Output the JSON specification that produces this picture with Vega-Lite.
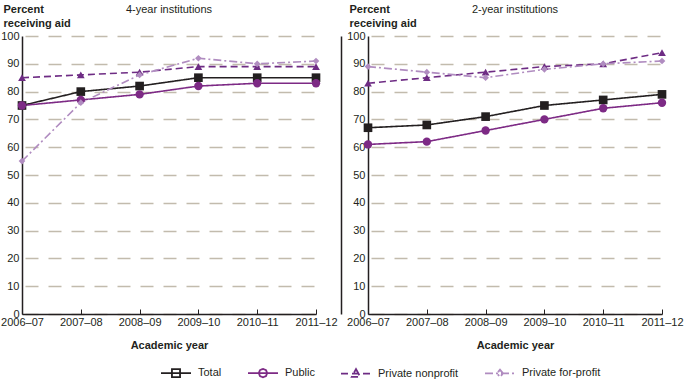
{
  "$schema": "https://vega.github.io/schema/vega-lite/v6.json",
  "padding": {"left": 0, "top": 3, "right": 0, "bottom": 0},
  "background": "white",
  "config": {
    "font": "Liberation Sans",
    "view": {"stroke": null},
    "axis": {"labelFontSize": 11, "labelColor": "#231f20", "titleFontSize": 11, "titleColor": "#231f20", "titleFontWeight": "bold", "domainColor": "#231f20", "domainWidth": 1.5, "tickColor": "#231f20"},
    "axisX": {"labelAngle": 0, "tickSize": -5, "labelPadding": 7, "titlePadding": 12, "grid": false},
    "axisY": {"ticks": false, "labelPadding": 3, "gridColor": "#c2bbad", "gridDash": [13, 10], "gridDashOffset": 20, "gridWidth": 1.5, "titleAngle": 0, "titleAlign": "left", "titleBaseline": "top", "titleX": -19, "titleY": -33, "titleLineHeight": 14},
    "title": {"fontSize": 11, "fontWeight": "normal", "color": "#231f20"}
  },
  "bounds": "flush",
  "spacing": 52,
  "resolve": {"scale": {"color": "independent", "strokeDash": "independent", "fill": "independent", "shape": "independent"}},
  "data": {"values": [
    {"level": "4-year", "year": "2006–07", "series": "Total", "value": 75},
    {"level": "4-year", "year": "2007–08", "series": "Total", "value": 80},
    {"level": "4-year", "year": "2008–09", "series": "Total", "value": 82},
    {"level": "4-year", "year": "2009–10", "series": "Total", "value": 85},
    {"level": "4-year", "year": "2010–11", "series": "Total", "value": 85},
    {"level": "4-year", "year": "2011–12", "series": "Total", "value": 85},
    {"level": "4-year", "year": "2006–07", "series": "Public", "value": 75},
    {"level": "4-year", "year": "2007–08", "series": "Public", "value": 77},
    {"level": "4-year", "year": "2008–09", "series": "Public", "value": 79},
    {"level": "4-year", "year": "2009–10", "series": "Public", "value": 82},
    {"level": "4-year", "year": "2010–11", "series": "Public", "value": 83},
    {"level": "4-year", "year": "2011–12", "series": "Public", "value": 83},
    {"level": "4-year", "year": "2006–07", "series": "Private nonprofit", "value": 85},
    {"level": "4-year", "year": "2007–08", "series": "Private nonprofit", "value": 86},
    {"level": "4-year", "year": "2008–09", "series": "Private nonprofit", "value": 87},
    {"level": "4-year", "year": "2009–10", "series": "Private nonprofit", "value": 89},
    {"level": "4-year", "year": "2010–11", "series": "Private nonprofit", "value": 89},
    {"level": "4-year", "year": "2011–12", "series": "Private nonprofit", "value": 89},
    {"level": "4-year", "year": "2006–07", "series": "Private for-profit", "value": 55},
    {"level": "4-year", "year": "2007–08", "series": "Private for-profit", "value": 76},
    {"level": "4-year", "year": "2008–09", "series": "Private for-profit", "value": 86},
    {"level": "4-year", "year": "2009–10", "series": "Private for-profit", "value": 92},
    {"level": "4-year", "year": "2010–11", "series": "Private for-profit", "value": 90},
    {"level": "4-year", "year": "2011–12", "series": "Private for-profit", "value": 91},
    {"level": "2-year", "year": "2006–07", "series": "Total", "value": 67},
    {"level": "2-year", "year": "2007–08", "series": "Total", "value": 68},
    {"level": "2-year", "year": "2008–09", "series": "Total", "value": 71},
    {"level": "2-year", "year": "2009–10", "series": "Total", "value": 75},
    {"level": "2-year", "year": "2010–11", "series": "Total", "value": 77},
    {"level": "2-year", "year": "2011–12", "series": "Total", "value": 79},
    {"level": "2-year", "year": "2006–07", "series": "Public", "value": 61},
    {"level": "2-year", "year": "2007–08", "series": "Public", "value": 62},
    {"level": "2-year", "year": "2008–09", "series": "Public", "value": 66},
    {"level": "2-year", "year": "2009–10", "series": "Public", "value": 70},
    {"level": "2-year", "year": "2010–11", "series": "Public", "value": 74},
    {"level": "2-year", "year": "2011–12", "series": "Public", "value": 76},
    {"level": "2-year", "year": "2006–07", "series": "Private nonprofit", "value": 83},
    {"level": "2-year", "year": "2007–08", "series": "Private nonprofit", "value": 85},
    {"level": "2-year", "year": "2008–09", "series": "Private nonprofit", "value": 87},
    {"level": "2-year", "year": "2009–10", "series": "Private nonprofit", "value": 89},
    {"level": "2-year", "year": "2010–11", "series": "Private nonprofit", "value": 90},
    {"level": "2-year", "year": "2011–12", "series": "Private nonprofit", "value": 94},
    {"level": "2-year", "year": "2006–07", "series": "Private for-profit", "value": 89},
    {"level": "2-year", "year": "2007–08", "series": "Private for-profit", "value": 87},
    {"level": "2-year", "year": "2008–09", "series": "Private for-profit", "value": 85},
    {"level": "2-year", "year": "2009–10", "series": "Private for-profit", "value": 88},
    {"level": "2-year", "year": "2010–11", "series": "Private for-profit", "value": 90},
    {"level": "2-year", "year": "2011–12", "series": "Private for-profit", "value": 91}
  ]},
  "hconcat": [
    {
      "width": 294, "height": 278,
      "title": {"text": "4-year institutions", "anchor": "middle", "frame": "group", "offset": 0, "dy": 12},
      "transform": [{"filter": "datum.level == '4-year'"}],
      "resolve": {"axis": {"y": "independent"}},
      "layer": [
        {
          "mark": {"type": "line", "strokeWidth": 1.6},
          "encoding": {
            "x": {"field": "year", "type": "ordinal", "sort": null, "scale": {"type": "point", "padding": 0}, "title": "Academic year"},
            "y": {"field": "value", "type": "quantitative", "scale": {"domain": [0, 100]}, "axis": {"title": ["Percent", "receiving aid"], "values": [0,10,20,30,40,50,60,70,80,90,100]}},
            "color": {"field": "series", "type": "nominal", "scale": {"domain": ["Total", "Public", "Private nonprofit", "Private for-profit"], "range": ["#231f20", "#7d2a85", "#6e2c84", "#b08cc0"]}, "legend": {"orient": "none", "legendX": 138, "legendY": 321, "direction": "horizontal", "columns": 4, "title": null, "symbolSize": 900, "symbolStrokeWidth": 1.8, "columnPadding": 22, "labelOffset": 6, "labelFontSize": 11, "labelColor": "#231f20"}},
            "strokeDash": {"field": "series", "type": "nominal", "scale": {"domain": ["Total", "Public", "Private nonprofit", "Private for-profit"], "range": [[1, 0], [1, 0], [7, 4], [8, 3, 2, 3]]}, "legend": {"orient": "none", "legendX": 138, "legendY": 321, "direction": "horizontal", "columns": 4, "title": null, "symbolSize": 900, "symbolStrokeWidth": 1.8, "columnPadding": 22, "labelOffset": 6, "labelFontSize": 11, "labelColor": "#231f20"}}
          }
        },
        {"transform": [{"filter": "datum.series == 'Total'"}], "mark": {"type": "point", "filled": true, "opacity": 1, "shape": "square", "size": 75, "color": "#231f20"}, "encoding": {"x": {"field": "year", "type": "ordinal", "sort": null}, "y": {"field": "value", "type": "quantitative", "axis": null}}},
        {"transform": [{"filter": "datum.series == 'Public'"}], "mark": {"type": "point", "filled": true, "opacity": 1, "shape": "circle", "size": 70, "color": "#7d2a85"}, "encoding": {"x": {"field": "year", "type": "ordinal", "sort": null}, "y": {"field": "value", "type": "quantitative", "axis": null}}},
        {"transform": [{"filter": "datum.series == 'Private nonprofit'"}], "mark": {"type": "point", "filled": true, "opacity": 1, "shape": "triangle-up", "size": 60, "color": "#6e2c84"}, "encoding": {"x": {"field": "year", "type": "ordinal", "sort": null}, "y": {"field": "value", "type": "quantitative", "axis": null}}},
        {"transform": [{"filter": "datum.series == 'Private for-profit'"}], "mark": {"type": "point", "filled": true, "opacity": 1, "shape": "diamond", "size": 45, "color": "#b08cc0"}, "encoding": {"x": {"field": "year", "type": "ordinal", "sort": null}, "y": {"field": "value", "type": "quantitative", "axis": null}}},
        {
          "mark": {"type": "point", "filled": true, "opacity": 0},
          "encoding": {
            "x": {"field": "year", "type": "ordinal", "sort": null},
            "y": {"field": "value", "type": "quantitative", "axis": null},
            "fill": {"field": "series", "type": "nominal", "scale": {"domain": ["Total", "Public", "Private nonprofit", "Private for-profit"], "range": ["#231f20", "#7d2a85", "#6e2c84", "#b08cc0"]}, "legend": {"orient": "none", "legendX": 138, "legendY": 321, "direction": "horizontal", "columns": 4, "title": null, "symbolSize": 900, "symbolStrokeWidth": 1.8, "columnPadding": 22, "labelOffset": 6, "labelFontSize": 11, "labelColor": "#231f20"}},
            "shape": {"field": "series", "type": "nominal", "scale": {"domain": ["Total", "Public", "Private nonprofit", "Private for-profit"], "range": [
              "M-1,0L1,0M-0.27,-0.27L0.27,-0.27L0.27,0.27L-0.27,0.27Z",
              "M-1,0L1,0M0.28,0L0.2,0.2L0,0.28L-0.2,0.2L-0.28,0L-0.2,-0.2L0,-0.28L0.2,-0.2Z",
              "M-1,0L1,0M0,-0.3L0.28,0.22L-0.28,0.22Z",
              "M-1,0L1,0M0,-0.25L0.2,0L0,0.25L-0.2,0Z"
            ]}, "legend": {"orient": "none", "legendX": 138, "legendY": 321, "direction": "horizontal", "columns": 4, "title": null, "symbolSize": 900, "symbolStrokeWidth": 1.8, "columnPadding": 22, "labelOffset": 6, "labelFontSize": 11, "labelColor": "#231f20"}}
          }
        },
        {
          "mark": {"type": "point", "opacity": 0},
          "encoding": {
            "x": {"field": "year", "type": "ordinal", "sort": null},
            "y": {"field": "value", "type": "quantitative", "scale": {"domain": [0, 100]}, "axis": {"orient": "right", "offset": 25, "labels": false, "ticks": false, "grid": false, "title": null, "domainColor": "#231f20", "domainWidth": 1.5}}
          }
        }
      ]
    },
    {
      "width": 294, "height": 278,
      "title": {"text": "2-year institutions", "anchor": "middle", "frame": "group", "offset": 0, "dy": 12},
      "transform": [{"filter": "datum.level == '2-year'"}],
      "encoding": {
        "x": {"field": "year", "type": "ordinal", "sort": null, "scale": {"type": "point", "padding": 0}, "title": "Academic year"},
        "y": {"field": "value", "type": "quantitative", "scale": {"domain": [0, 100]}, "axis": {"title": ["Percent", "receiving aid"], "values": [0,10,20,30,40,50,60,70,80,90,100]}}
      },
      "layer": [
        {
          "mark": {"type": "line", "strokeWidth": 1.6},
          "encoding": {
            "color": {"field": "series", "type": "nominal", "scale": {"domain": ["Total", "Public", "Private nonprofit", "Private for-profit"], "range": ["#231f20", "#7d2a85", "#6e2c84", "#b08cc0"]}, "legend": null},
            "strokeDash": {"field": "series", "type": "nominal", "scale": {"domain": ["Total", "Public", "Private nonprofit", "Private for-profit"], "range": [[1, 0], [1, 0], [7, 4], [8, 3, 2, 3]]}, "legend": null}
          }
        },
        {"transform": [{"filter": "datum.series == 'Total'"}], "mark": {"type": "point", "filled": true, "opacity": 1, "shape": "square", "size": 75, "color": "#231f20"}},
        {"transform": [{"filter": "datum.series == 'Public'"}], "mark": {"type": "point", "filled": true, "opacity": 1, "shape": "circle", "size": 70, "color": "#7d2a85"}},
        {"transform": [{"filter": "datum.series == 'Private nonprofit'"}], "mark": {"type": "point", "filled": true, "opacity": 1, "shape": "triangle-up", "size": 60, "color": "#6e2c84"}},
        {"transform": [{"filter": "datum.series == 'Private for-profit'"}], "mark": {"type": "point", "filled": true, "opacity": 1, "shape": "diamond", "size": 45, "color": "#b08cc0"}}
      ]
    }
  ]
}
